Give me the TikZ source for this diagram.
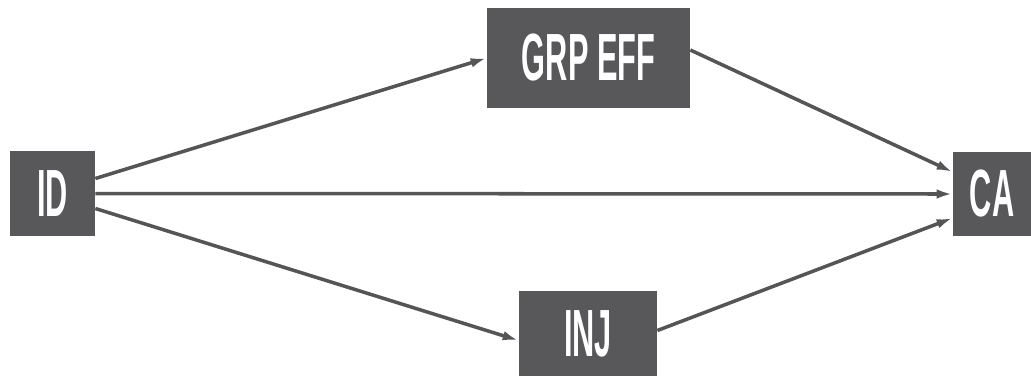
\documentclass[tikz,border=0pt]{standalone}
\usepackage{fontspec}
\usetikzlibrary{arrows.meta,positioning}
\newfontfamily\boxfont[FakeStretch=0.46]{Liberation Sans}
\definecolor{pathBox}{HTML}{58585A}
\definecolor{pathLine}{HTML}{555557}

\begin{document}
\begin{tikzpicture}[
      box/.style={fill=pathBox,text=white,font=\boxfont\bfseries\fontsize{38}{38}\selectfont,inner sep=0pt,align=center},
      link/.style={-{Latex[length=3.2mm,width=1.9mm]},pathLine,line width=2pt}]
    \useasboundingbox (0,0) rectangle (20.62,7.52);
    \node[box,minimum width=1.7cm,minimum height=1.7cm] (id) at (1.05,3.65) {ID};
    \node[box,minimum width=4.06cm,minimum height=2.0cm] (grp) at (11.77,6.36) {GRP EFF};
    \node[box,minimum width=2.76cm,minimum height=1.7cm] (inj) at (11.76,0.85) {INJ};
    \node[box,minimum width=1.56cm,minimum height=1.68cm] (ca) at (19.84,3.64) {CA};
    \draw[link] ([yshift=0.3cm]id.east) -- (grp.west);
    \draw[link] (id.east) -- (ca.west);
    \draw[link] ([yshift=-0.3cm]id.east) -- ([yshift=-0.14cm]inj.west);
    \draw[link] ([yshift=0.16cm]grp.east) -- ([yshift=0.44cm]ca.west);
    \draw[link] ([yshift=0.06cm]inj.east) -- ([yshift=-0.48cm]ca.west);
  \end{tikzpicture}
\end{document}
